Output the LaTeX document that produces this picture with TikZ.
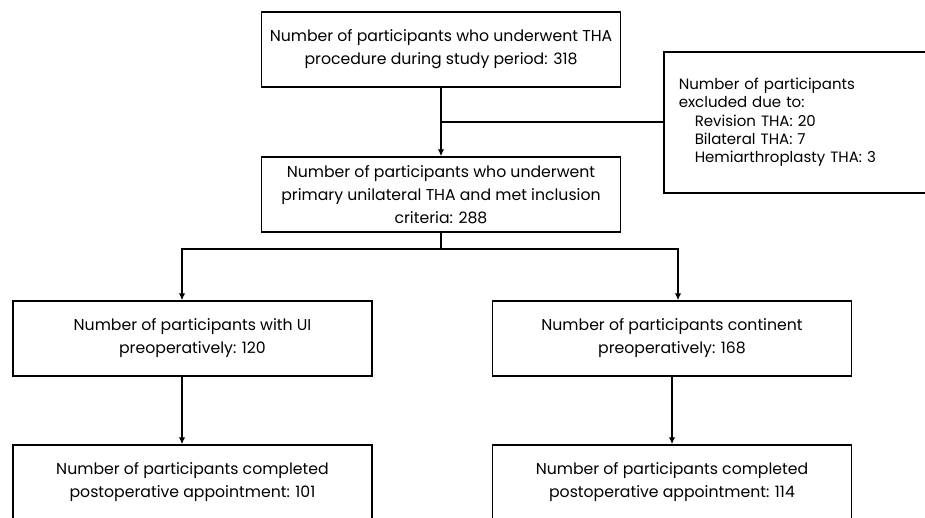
\documentclass[tikz,border=0pt]{standalone}
\usepackage{fontspec}
\setmainfont{Poppins}
\usetikzlibrary{arrows.meta}

\begin{document}
\begin{tikzpicture}[x=1pt,y=-1pt,
	box/.style={draw, line width=1.5pt, minimum width=359pt, minimum height=75pt, align=center, font=\fontsize{15.7}{23}\selectfont},
	exclbox/.style={draw, line width=1.5pt, anchor=west, text width=270pt, inner xsep=15pt, minimum height=141pt, align=left, font=\fontsize{15}{18.3}\selectfont},
	arr/.style={line width=1.9pt, -{Latex[length=7pt,width=6.5pt]}},
	con/.style={line width=1.9pt, line cap=rect}]
		\useasboundingbox (0,0) rectangle (925,517);
		\clip (0,0) rectangle (925,517);
		\node[box] (total) at (441,49.5) {Number of participants who underwent THA\\procedure during study period: 318};
		\node[box] (incl) at (441,194.5) {Number of participants who underwent\\primary unilateral THA and met inclusion\\criteria: 288};
		\node[exclbox] (excl) at (663,122.5) {Number of participants\\excluded due to:\\\hspace*{16pt}Revision THA: 20\\\hspace*{16pt}Bilateral THA: 7\\\hspace*{16pt}Hemiarthroplasty THA: 3};
		\node[box] (ui) at (192.5,338.5) {Number of participants with UI\\preoperatively: 120};
		\node[box] (cont) at (672,338.5) {Number of participants continent\\preoperatively: 168};
		\node[box] (uipost) at (192.5,482.5) {Number of participants completed\\postoperative appointment: 101};
		\node[box] (contpost) at (672,482.5) {Number of participants completed\\postoperative appointment: 114};
%		exclusion branch
		\coordinate (split1) at (441,122);
		\draw [arr] (total.south) -- (incl.north);
		\draw [con] (split1) -- (split1 -| excl.west);
%		split into two groups
		\coordinate (split2) at (441,249);
		\coordinate (toui) at (182,249);
		\coordinate (tocont) at (678,249);
		\draw [con] (incl.south) -- (split2);
		\draw [con] (toui) -- (tocont);
		\draw [arr] (toui) -- (toui |- ui.north);
		\draw [arr] (tocont) -- (tocont |- cont.north);
		\draw [arr] (toui |- ui.south) -- (toui |- uipost.north);
		\draw [arr] (cont.south) -- (contpost.north);
\end{tikzpicture}
\end{document}
